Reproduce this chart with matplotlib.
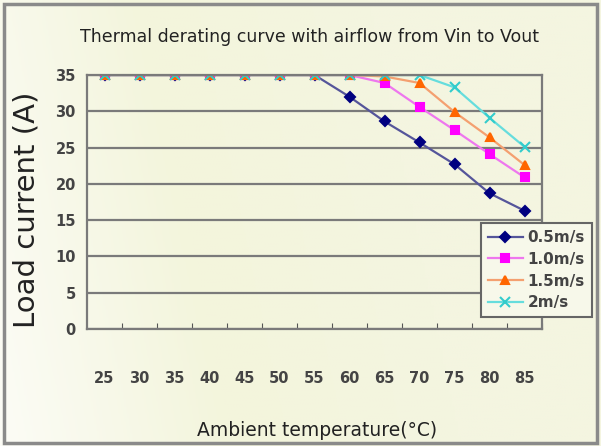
import numpy as np
import matplotlib.pyplot as plt
from matplotlib.patches import Rectangle
from matplotlib.colors import LinearSegmentedColormap

temps = ['25', '30', '35', '40', '45', '50', '55', '60', '65', '70', '75', '80', '85']
i_05 = [35, 35, 35, 35, 35, 35, 35, 32.0, 28.6, 25.7, 22.7, 18.7, 16.3]
i_10 = [35, 35, 35, 35, 35, 35, 35, 35, 33.9, 30.6, 27.4, 24.1, 20.9]
i_15 = [35, 35, 35, 35, 35, 35, 35, 35, 34.8, 33.9, 29.9, 26.4, 22.6]
i_20 = [35, 35, 35, 35, 35, 35, 35, 35, 35, 35, 33.3, 29.1, 25.1]
labels = ['0.5m/s', '1.0m/s', '1.5m/s', '2m/s']

bg = '#f5f6e2'
fig = plt.figure(figsize=(6.01, 4.46), dpi=100, facecolor=bg)

# soft background gradient like the original picture
bax = fig.add_axes([0, 0, 1, 1], zorder=-10)
cm = LinearSegmentedColormap.from_list('bg', ['#fcfcf6', '#f3f5dc', '#f4f5e0'])
gx, gy = np.meshgrid(np.linspace(0, 1, 200), np.linspace(0, 1, 150))
bax.imshow(np.clip(gx * 1.3 + (1 - gy) * 0.2, 0, 1), cmap=cm, aspect='auto',
           extent=[0, 1, 0, 1])
bax.axis('off')

ax = fig.add_axes([87/601, 1 - 329/446, 455/601, 254/446])
ax.patch.set_alpha(0)

x = np.arange(len(temps))
styles = [
    (i_05, '#55559a', '#000080', 'D', 5),
    (i_10, '#ee77ee', '#ff00ff', 's', 6),
    (i_15, '#f4a070', '#ff6600', '^', 6),
    (i_20, '#66dddd', '#33cccc', 'x', 7),
]
for (vals, lc, mc, m, ms), lab in zip(styles, labels):
    ax.plot(x, vals, color=lc, lw=1.6, marker=m, ms=ms, mfc=mc, mec=mc,
            mew=1.5, label=lab)

ax.set_xlim(-0.5, len(temps) - 0.5)
ax.set_ylim(0, 35)
ax.set_yticks(np.arange(0, 36, 5))
ax.yaxis.grid(True, color='#7a7a7a', lw=1.6)
ax.set_axisbelow(True)
ax.tick_params(axis='y', length=0, pad=8, labelsize=10.5, labelcolor='#444444')

ax.set_xticks(x + 0.5)
ax.set_xticklabels([])
ax.set_xticks(x, minor=True)
ax.set_xticklabels(temps, minor=True)
ax.tick_params(axis='x', which='major', direction='in', length=4, color='#555555')
ax.tick_params(axis='x', which='minor', length=0, pad=30, labelsize=10.5,
               labelcolor='#444444')
for t in ax.get_yticklabels() + ax.get_xminorticklabels():
    t.set_fontweight('bold')

for s in ax.spines.values():
    s.set_color('#7a7a7a')
    s.set_linewidth(1.6)

fig.text(310/601, 1 - 37/446, 'Thermal derating curve with airflow from Vin to Vout',
         ha='center', va='center', fontsize=12.5, color='#222222')
fig.text(317/601, 1 - 430/446, 'Ambient temperature(°C)', ha='center', va='center',
         fontsize=13.5, color='#222222')
fig.text(26/601, 1 - 210/446, 'Load current (A)', ha='center', va='center',
         rotation=90, fontsize=21, color='#222222')

leg = ax.legend(loc='upper left', bbox_to_anchor=(481/601, 1 - 223/446),
                bbox_transform=fig.transFigure, borderaxespad=0,
                prop={'size': 11, 'weight': 'bold'},
                frameon=True, fancybox=False, borderpad=0.45, labelspacing=0.45,
                handlelength=2.3, handletextpad=0.3)
leg.get_frame().set_edgecolor('#666666')
leg.get_frame().set_linewidth(1.5)
leg.get_frame().set_facecolor('#f7f8ea')
leg.get_frame().set_alpha(1)
for t in leg.get_texts():
    t.set_color('#444444')

fig.patches.append(Rectangle((0.007, 0.007), 0.986, 0.983, transform=fig.transFigure,
                             fill=False, edgecolor='#8a8a8a', lw=2.5))

fig.savefig('out.png', dpi=100, facecolor=bg)
